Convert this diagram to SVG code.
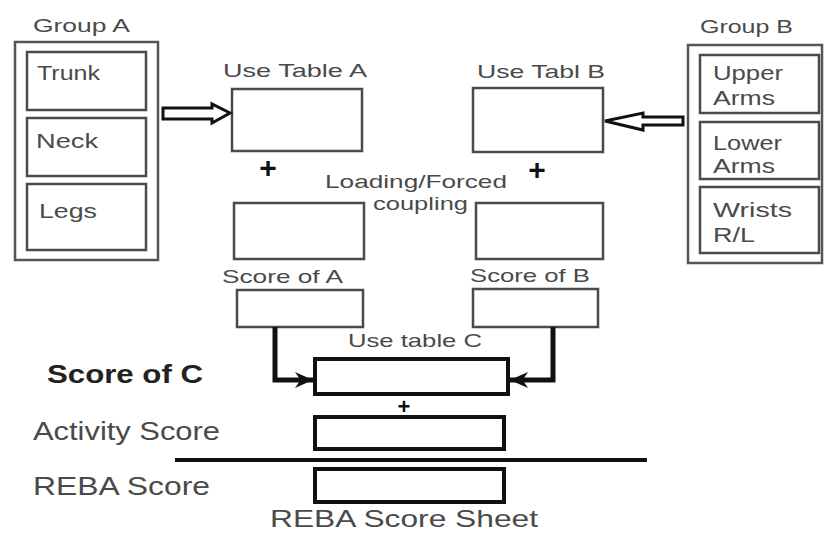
<svg xmlns="http://www.w3.org/2000/svg" width="824" height="534" viewBox="0 0 824 534">
<style>
text{font-family:"Liberation Sans",Arial,sans-serif;fill:#4a4a4a;}
.t18{font-size:19px;}
.t20{font-size:20px;}
.t25{font-size:25px;}
.grp{fill:none;stroke:#555;stroke-width:2.5;}
.box{fill:#fff;stroke:#4a4a4a;stroke-width:2.5;}
.bx{fill:#fff;stroke:#111;stroke-width:4;}
.plus{font-size:30px;font-weight:bold;fill:#111;}
.con{fill:none;stroke:#111;stroke-width:5;}
.hollow{fill:#fff;stroke:#111;stroke-width:3;stroke-linejoin:miter;}
</style>
<defs>
<marker id="ah" viewBox="0 0 10 10" refX="10" refY="5" markerWidth="5.5" markerHeight="3.6" markerUnits="strokeWidth" orient="auto">
<path d="M0,0.5 L10,5 L0,9.5 L3,5 Z" fill="#111"/>
</marker>
</defs>

<g id="groupA">
<text class="t18" x="33" y="32" textLength="97" lengthAdjust="spacingAndGlyphs">Group A</text>
<rect class="grp" x="15" y="42" width="143" height="218"/>
</g>
<g id="trunk"><rect class="box" x="27" y="52" width="119" height="58"/><text class="t20" x="37" y="80" textLength="63" lengthAdjust="spacingAndGlyphs">Trunk</text></g>
<g id="neck"><rect class="box" x="27" y="118" width="119" height="58"/><text class="t20" x="36" y="148" textLength="62" lengthAdjust="spacingAndGlyphs">Neck</text></g>
<g id="legs"><rect class="box" x="27" y="184" width="119" height="66"/><text class="t20" x="39" y="218" textLength="58" lengthAdjust="spacingAndGlyphs">Legs</text></g>

<g id="groupB">
<text class="t18" x="700" y="33" textLength="93" lengthAdjust="spacingAndGlyphs">Group B</text>
<rect class="grp" x="688" y="45" width="134" height="218"/>
</g>
<g id="upperArms"><rect class="box" x="700" y="55" width="119" height="58"/><text class="t20" x="713" y="80" textLength="70" lengthAdjust="spacingAndGlyphs">Upper</text><text class="t20" x="713" y="105" textLength="62" lengthAdjust="spacingAndGlyphs">Arms</text></g>
<g id="lowerArms"><rect class="box" x="700" y="122" width="119" height="57"/><text class="t20" x="713" y="150" textLength="69" lengthAdjust="spacingAndGlyphs">Lower</text><text class="t20" x="713" y="173" textLength="62" lengthAdjust="spacingAndGlyphs">Arms</text></g>
<g id="wrists"><rect class="box" x="700" y="187" width="119" height="66"/><text class="t20" x="713" y="217" textLength="79" lengthAdjust="spacingAndGlyphs">Wrists</text><text class="t20" x="713" y="242" textLength="42" lengthAdjust="spacingAndGlyphs">R/L</text></g>

<g id="tableA">
<text class="t18" x="223" y="77" textLength="144" lengthAdjust="spacingAndGlyphs">Use Table A</text>
<rect class="box" x="232" y="89" width="130" height="62"/>
</g>
<g id="tableB">
<text class="t18" x="477" y="78" textLength="128" lengthAdjust="spacingAndGlyphs">Use Tabl B</text>
<rect class="box" x="473" y="88" width="130" height="64"/>
</g>
<g id="loadA"><rect class="box" x="234" y="203" width="130" height="56"/></g>
<g id="loadB"><rect class="box" x="476" y="203" width="127" height="56"/></g>
<g id="loadLabel">
<text class="t18" x="325" y="188" textLength="182" lengthAdjust="spacingAndGlyphs">Loading/Forced</text>
<text class="t18" x="373" y="210" textLength="95" lengthAdjust="spacingAndGlyphs">coupling</text>
</g>
<g id="scoreA">
<text class="t18" x="222" y="283" textLength="121" lengthAdjust="spacingAndGlyphs">Score of A</text>
<rect class="box" x="237" y="290" width="126" height="37"/>
</g>
<g id="scoreB">
<text class="t18" x="470" y="282" textLength="120" lengthAdjust="spacingAndGlyphs">Score of B</text>
<rect class="box" x="473" y="289" width="125" height="38"/>
</g>
<g id="tableC">
<text class="t18" x="348" y="347" textLength="134" lengthAdjust="spacingAndGlyphs">Use table C</text>
<rect class="bx" x="315" y="359" width="193" height="35"/>
</g>
<g id="activity"><rect class="bx" x="315" y="417" width="189" height="32"/></g>
<g id="reba"><rect class="bx" x="315" y="469" width="189" height="33"/></g>

<g id="labels">
<text class="plus" x="268" y="178" text-anchor="middle">+</text>
<text class="plus" x="537" y="180" text-anchor="middle">+</text>
<text class="plus" x="404" y="414" text-anchor="middle" style="font-size:22px">+</text>
<text class="t25" x="47" y="383" style="font-weight:bold;fill:#222" textLength="156" lengthAdjust="spacingAndGlyphs">Score of C</text>
<text class="t25" x="33" y="440" textLength="187" lengthAdjust="spacingAndGlyphs">Activity Score</text>
<text class="t25" x="33" y="495" textLength="177" lengthAdjust="spacingAndGlyphs">REBA Score</text>
<text class="t25" x="270" y="527" style="font-size:24px" textLength="268" lengthAdjust="spacingAndGlyphs">REBA Score Sheet</text>
</g>

<g id="connectors">
<polygon class="hollow" points="163,108 212,108 212,104 230,113 212,123 212,119 163,119"/>
<polygon class="hollow" points="683,117 643,117 643,113 605,121 643,130 643,125 683,125"/>
<path class="con" d="M275,327 V380 H313" marker-end="url(#ah)"/>
<path class="con" d="M553,327 V380 H510" marker-end="url(#ah)"/>
<line x1="175" y1="460" x2="647" y2="460" stroke="#111" stroke-width="4"/>
</g>
</svg>
